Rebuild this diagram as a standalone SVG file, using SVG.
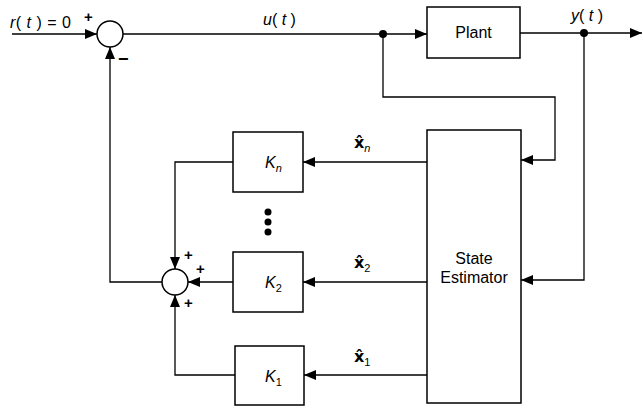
<svg xmlns="http://www.w3.org/2000/svg" width="643" height="408" viewBox="0 0 643 408">
<style>
.box{fill:#fff;stroke:#000;stroke-width:1.5}
.sum{fill:#fff;stroke:#000;stroke-width:1.5}
.ln{fill:none;stroke:#000;stroke-width:1.3}
.t{font-family:"Liberation Sans",Arial,sans-serif;font-size:16px;fill:#000}
.i{font-style:italic}
.s{font-family:"Liberation Sans",Arial,sans-serif;font-size:11px;fill:#000}
.p{font-family:"Liberation Sans",Arial,sans-serif;font-size:15px;font-weight:bold;fill:#000}
.h{font-family:"DejaVu Sans",sans-serif;font-size:16px;font-weight:bold;fill:#000}
</style>
<defs>
<marker id="ar" markerUnits="userSpaceOnUse" markerWidth="12" markerHeight="10" viewBox="0 0 12 10" refX="12" refY="5" orient="auto">
<path d="M0,0 L12,5 L0,10 Z" fill="#000"/>
</marker>
</defs>
<g id="connectors">
<path class="ln" d="M12,34 H97" marker-end="url(#ar)"/>
<path class="ln" d="M123,34 H427" marker-end="url(#ar)"/>
<path class="ln" d="M383,34 V97 H555 V160 H521" marker-end="url(#ar)"/>
<path class="ln" d="M520,33 H642" marker-end="url(#ar)"/>
<path class="ln" d="M584,33 V280 H521" marker-end="url(#ar)"/>
<path class="ln" d="M427,162 H303" marker-end="url(#ar)"/>
<path class="ln" d="M427,282 H303" marker-end="url(#ar)"/>
<path class="ln" d="M427,375 H304" marker-end="url(#ar)"/>
<path class="ln" d="M233,162 H175 V269" marker-end="url(#ar)"/>
<path class="ln" d="M233,282 H188" marker-end="url(#ar)"/>
<path class="ln" d="M235,375 H175 V295" marker-end="url(#ar)"/>
<path class="ln" d="M162,282 H110 V47" marker-end="url(#ar)"/>
<circle cx="383" cy="34" r="4" fill="#000"/>
<circle cx="584" cy="33" r="4" fill="#000"/>
<text class="t" x="10" y="28" style="letter-spacing:0.5px"><tspan class="i">r</tspan>( <tspan class="i">t</tspan> ) = 0</text>
<text class="t" x="263" y="25"><tspan class="i">u</tspan>( <tspan class="i">t</tspan> )</text>
<text class="t" x="571" y="21"><tspan class="i">y</tspan>( <tspan class="i">t</tspan> )</text>
<text x="354" y="148"><tspan class="h">x̂</tspan><tspan class="s i" dy="4">n</tspan></text>
<text x="354" y="268"><tspan class="h">x̂</tspan><tspan class="s" dy="4">2</tspan></text>
<text x="354" y="362"><tspan class="h">x̂</tspan><tspan class="s" dy="4">1</tspan></text>
</g>
<g id="sum1">
<circle class="sum" cx="110" cy="34" r="13"/>
<text class="p" x="84" y="22">+</text>
<text class="p" x="118" y="65" style="font-size:18px">−</text>
</g>
<g id="sum2">
<circle class="sum" cx="175" cy="282" r="13"/>
<text class="p" x="184" y="260">+</text>
<text class="p" x="196" y="274">+</text>
<text class="p" x="184" y="308">+</text>
</g>
<g id="plant">
<rect class="box" x="427" y="7" width="93" height="51"/>
<text class="t" x="473.5" y="38" text-anchor="middle">Plant</text>
</g>
<g id="estimator">
<rect class="box" x="427" y="130" width="94" height="273"/>
<text class="t" x="474" y="264" text-anchor="middle">State</text>
<text class="t" x="474" y="283" text-anchor="middle">Estimator</text>
</g>
<g id="kn">
<rect class="box" x="233" y="132" width="70" height="60"/>
<text class="t" x="265" y="168"><tspan class="i">K</tspan><tspan class="s i" dy="4">n</tspan></text>
</g>
<g id="dots">
<circle cx="268" cy="212" r="3.5" fill="#000"/>
<circle cx="268" cy="222" r="3.5" fill="#000"/>
<circle cx="268" cy="232" r="3.5" fill="#000"/>
</g>
<g id="k2">
<rect class="box" x="233" y="252" width="70" height="60"/>
<text class="t" x="265" y="288"><tspan class="i">K</tspan><tspan class="s" dy="4">2</tspan></text>
</g>
<g id="k1">
<rect class="box" x="235" y="346" width="69" height="59"/>
<text class="t" x="265" y="382"><tspan class="i">K</tspan><tspan class="s" dy="4">1</tspan></text>
</g>
</svg>
